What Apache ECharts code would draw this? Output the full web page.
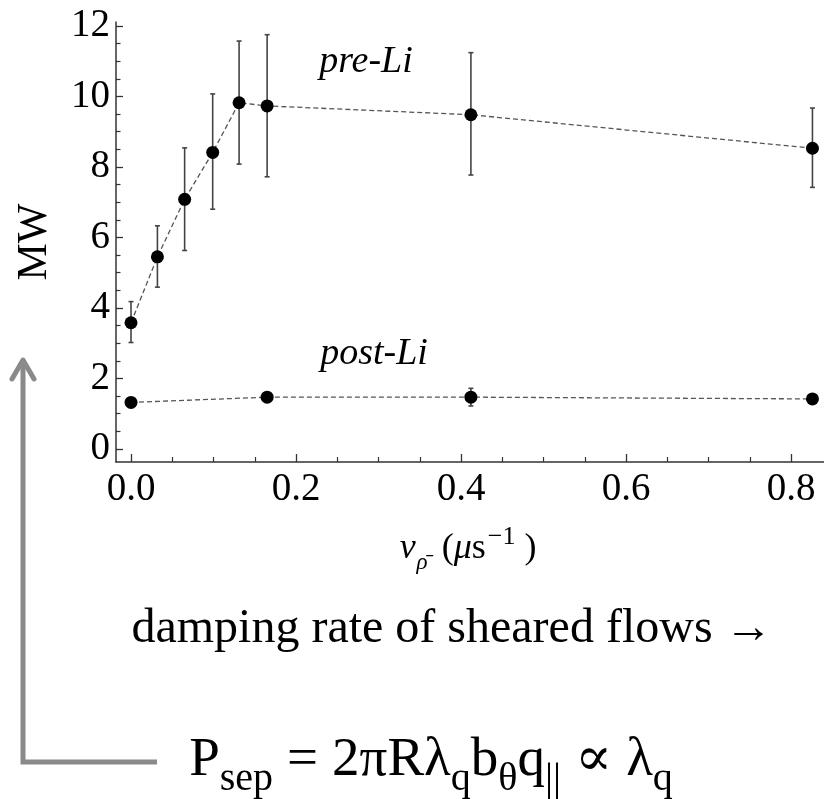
<!DOCTYPE html>
<html>
<head>
<meta charset="utf-8">
<script src="https://cdn.jsdelivr.net/npm/echarts@6/dist/echarts.min.js"></script>
<style>
  html, body { margin: 0; padding: 0; background: #fff; }
  #chart { width: 824px; height: 799px; }
</style>
</head>
<body>
<div id="chart"></div>
<script>
// pre-Li points (x = damping rate, y = MW) with error bars
var preX  = [0, 0.032, 0.065, 0.099, 0.131, 0.165, 0.412, 0.826];
var preY  = [3.58, 5.45, 7.08, 8.41, 9.82, 9.73, 9.48, 8.53];
var preLo = [3.02, 4.59, 5.63, 6.80, 8.08, 7.72, 7.77, 7.42];
var preHi = [4.18, 6.33, 8.54, 10.07, 11.57, 11.75, 11.24, 9.67];

// post-Li points
var postX  = [0, 0.165, 0.412, 0.826];
var postY  = [1.32, 1.47, 1.47, 1.42];
var postLo = [1.24, 1.36, 1.22, 1.32];
var postHi = [1.40, 1.58, 1.72, 1.52];

// tick positions
var xMajor = [0, 0.2, 0.4, 0.6, 0.8];
var xMinor = [0.05, 0.1, 0.15, 0.25, 0.3, 0.35, 0.45, 0.5, 0.55, 0.65, 0.7, 0.75, 0.85];
var yMajor = [0, 2, 4, 6, 8, 10, 12];
var yMinor = [0.5, 1, 1.5, 2.5, 3, 3.5, 4.5, 5, 5.5, 6.5, 7, 7.5, 8.5, 9, 9.5, 10.5, 11, 11.5];

var serif = "'Liberation Serif', 'DejaVu Serif', serif";
var chart = echarts.init(document.getElementById('chart'));

function pairs(xs, ys) {
    return xs.map(function (x, i) { return [x, ys[i]]; });
}
function bars(xs, lo, hi) {
    return xs.map(function (x, i) { return [x, lo[i], hi[i]]; });
}

// vertical error bar with small caps
function errorBar(params, api) {
    var x = api.value(0);
    var top = api.coord([x, api.value(2)]);
    var bot = api.coord([x, api.value(1)]);
    var w = 2.5;
    var st = { stroke: '#444', lineWidth: 1.6 };
    return {
        type: 'group',
        children: [
            { type: 'line', shape: { x1: top[0], y1: top[1], x2: bot[0], y2: bot[1] }, style: st },
            { type: 'line', shape: { x1: top[0] - w, y1: top[1], x2: top[0] + w, y2: top[1] }, style: st },
            { type: 'line', shape: { x1: bot[0] - w, y1: bot[1], x2: bot[0] + w, y2: bot[1] }, style: st }
        ]
    };
}

var axisCol = '#333';
var xMin = -0.0182, xMax = 0.84;
var yMin = -0.369, yMax = 12.11;

var option = {
    animation: false,
    backgroundColor: '#fff',
    grid: { left: 116, right: 0, top: 22, bottom: 337 },
    xAxis: [{
        type: 'value', min: xMin, max: xMax,
        splitLine: { show: false },
        axisLine: { onZero: false, lineStyle: { color: axisCol, width: 1.5 } },
        axisTick: { inside: true, length: 8, customValues: xMajor, lineStyle: { color: axisCol, width: 1.3 } },
        axisLabel: {
            customValues: xMajor, margin: 8,
            formatter: function (v) { return v.toFixed(1); },
            fontFamily: serif, fontSize: 39, color: '#000'
        }
    }, {
        type: 'value', min: xMin, max: xMax, position: 'bottom',
        splitLine: { show: false },
        axisLine: { show: false, onZero: false },
        axisLabel: { show: false },
        axisTick: { inside: true, length: 5, customValues: xMinor, lineStyle: { color: axisCol, width: 1.2 } }
    }],
    yAxis: [{
        type: 'value', min: yMin, max: yMax,
        splitLine: { show: false },
        axisLine: { show: true, onZero: false, lineStyle: { color: axisCol, width: 1.5 } },
        axisTick: { show: true, inside: true, length: 7, customValues: yMajor, lineStyle: { color: axisCol, width: 1.3 } },
        axisLabel: {
            customValues: yMajor, margin: 6,
            fontFamily: serif, fontSize: 39, color: '#000'
        }
    }, {
        type: 'value', min: yMin, max: yMax, position: 'left',
        splitLine: { show: false },
        axisLine: { show: false, onZero: false },
        axisLabel: { show: false },
        axisTick: { show: true, inside: true, length: 4.5, customValues: yMinor, lineStyle: { color: axisCol, width: 1.2 } }
    }],
    series: [{
        type: 'custom', name: 'pre-Li err', renderItem: errorBar,
        data: bars(preX, preLo, preHi), encode: { x: 0, y: [1, 2] }, z: 1
    }, {
        type: 'custom', name: 'post-Li err', renderItem: errorBar,
        data: bars(postX, postLo, postHi), encode: { x: 0, y: [1, 2] }, z: 1
    }, {
        type: 'line', name: 'pre-Li', data: pairs(preX, preY), z: 3, smooth: false,
        symbol: 'circle', symbolSize: 13,
        itemStyle: { color: '#000' },
        lineStyle: { color: '#555', width: 1.3, type: [5, 3] }
    }, {
        type: 'line', name: 'post-Li', data: pairs(postX, postY), z: 3, smooth: false,
        symbol: 'circle', symbolSize: 13,
        itemStyle: { color: '#000' },
        lineStyle: { color: '#555', width: 1.3, type: [5, 3] }
    }],
    graphic: [
        // y axis title
        { type: 'text', x: 35, y: 242, rotation: Math.PI / 2,
          style: { text: 'MW', font: '42px ' + serif, fill: '#000', align: 'center', verticalAlign: 'middle' } },
        // x axis title
        { type: 'text', x: 468, y: 549,
          style: {
              text: '{i|ν}{sub|ρ̄}{p|(}{i|μ}{n|s}{sup|−1}{q|)}',
              align: 'center', verticalAlign: 'middle',
              rich: {
                  i: { font: 'italic 36px ' + serif, fill: '#000', lineHeight: 50, verticalAlign: 'middle' },
                  n: { font: '36px ' + serif, fill: '#000', lineHeight: 50, verticalAlign: 'middle' },
                  p: { font: '36px ' + serif, fill: '#000', lineHeight: 50, verticalAlign: 'middle', padding: [0, 0, 0, 14] },
                  q: { font: '36px ' + serif, fill: '#000', lineHeight: 50, verticalAlign: 'middle', padding: [0, 0, 0, 9] },
                  sub: { font: 'italic 23px ' + serif, fill: '#000', lineHeight: 50, verticalAlign: 'bottom', padding: [0, 0, 0, 1] },
                  sup: { font: '26px ' + serif, fill: '#000', lineHeight: 50, verticalAlign: 'top', padding: [0, 0, 0, 2] }
              }
          } },
        // series labels
        { type: 'text', x: 366, y: 62,
          style: { text: 'pre-Li', font: 'italic 38px ' + serif, fill: '#000', align: 'center', verticalAlign: 'middle' } },
        { type: 'text', x: 374, y: 354,
          style: { text: 'post-Li', font: 'italic 38px ' + serif, fill: '#000', align: 'center', verticalAlign: 'middle' } },
        // caption below
        { type: 'text', x: 452, y: 629,
          style: { text: 'damping rate of sheared flows →', font: '48px ' + serif, fill: '#000', align: 'center', verticalAlign: 'middle' } },
        // formula
        { type: 'text', x: 431, y: 766,
          style: {
              text: '{m|P}{s|sep}{e|=}{m|2πRλ}{s|q}{m|b}{s|θ}{m|q}{s|||}{e|∝}{m|λ}{s|q}',
              align: 'center', verticalAlign: 'middle',
              rich: {
                  m: { font: '55px ' + serif, fill: '#000', lineHeight: 66, verticalAlign: 'top' },
                  e: { font: '55px ' + serif, fill: '#000', lineHeight: 66, verticalAlign: 'top', padding: [0, 14, 0, 14] },
                  s: { font: '40px ' + serif, fill: '#000', lineHeight: 66, verticalAlign: 'bottom' }
              }
          } },
        // grey L-shaped arrow
        { type: 'polyline', shape: { points: [[157, 762], [23, 762], [23, 361]] },
          style: { stroke: '#8a8a8a', lineWidth: 5, fill: null, lineJoin: 'miter' } },
        { type: 'polyline', shape: { points: [[12, 379], [23, 360], [34, 379]] },
          style: { stroke: '#8a8a8a', lineWidth: 5, fill: null, lineCap: 'round', lineJoin: 'round' } }
    ]
};

chart.setOption(option);
</script>
</body>
</html>
